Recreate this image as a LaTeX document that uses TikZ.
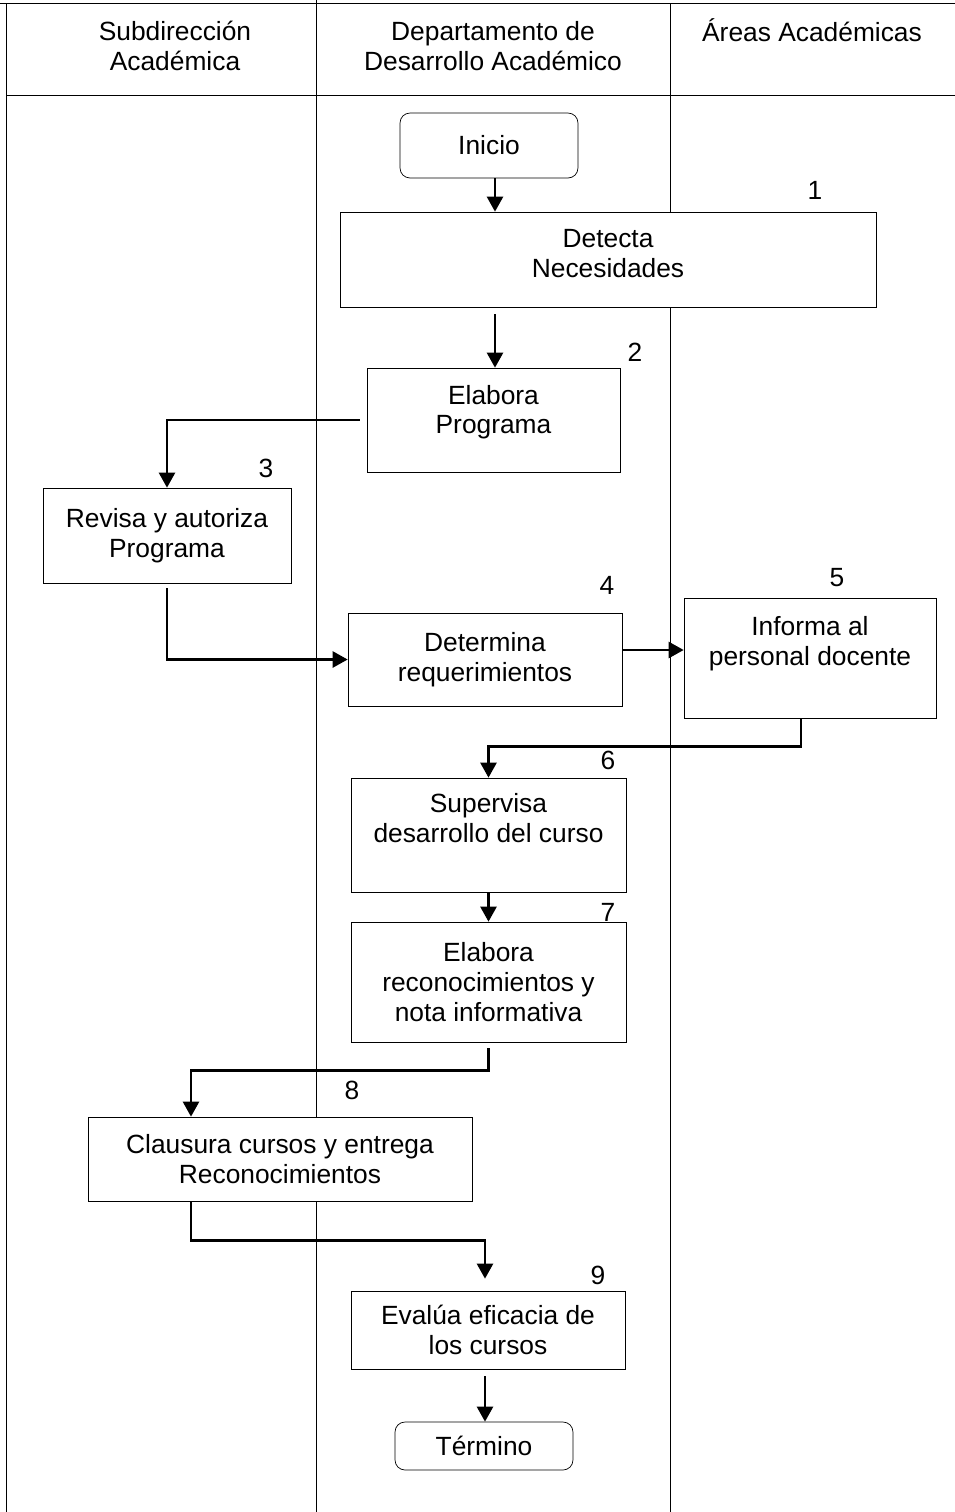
\documentclass[tikz,border=0pt]{standalone}
\usepackage{fontspec}
\setmainfont{Liberation Sans}
\usetikzlibrary{
        arrows.meta,
        positioning
    }
\tikzset{>={Triangle[length=0.3cm,width=0.32cm]},line width=1.1pt}
\tikzset{box/.style={draw,fill=white,rectangle,inner sep=0pt,align=center,font=\fontsize{15}{17}\selectfont}}
\tikzset{terminal/.style={box,rounded corners=0.2cm}}
\tikzset{flow/.style={->,line width=1.4pt}}
\tikzset{head/.style={align=center,font=\fontsize{15}{17}\selectfont}}

\begin{document}
\begin{tikzpicture}[x=0.02cm,y=-0.02cm]
            \useasboundingbox (0,0) rectangle (955,1512);
            % lanes
            \draw (0,3) -- (955,3);
            \draw (6,3) -- (6,1512);
            \draw (6,95) -- (955,95);
            \draw (316,0) -- (316,1512);
            \draw (670,3) -- (670,1512);
            \node[head] (sub)   at (175,46) {Subdirección\\Académica};
            \node[head] (dep)   at (493,46) {Departamento de\\Desarrollo Académico};
            \node[head] (areas) at (812,30) {Áreas Académicas};
            % steps
            \node[terminal,minimum width=3.56cm,minimum height=1.3cm] (inicio)    at (489,145.5)  {Inicio};
            \node[box,minimum width=10.72cm,minimum height=1.9cm,text depth=7pt] (detecta) at (608,259.5) {Detecta\\Necesidades};
            \node[box,minimum width=5.06cm,minimum height=2.08cm,text depth=12pt] (elabora) at (493.5,420) {Elabora\\Programa};
            \node[box,minimum width=4.96cm,minimum height=1.9cm]      (revisa)    at (167,535.5)  {Revisa y autoriza\\Programa};
            \node[box,minimum width=5.48cm,minimum height=1.86cm]     (determina) at (485,659.5)  {Determina\\requerimientos};
            \node[box,minimum width=5.04cm,minimum height=2.4cm,text depth=19pt] (informa) at (810,658) {Informa al\\personal docente};
            \node[box,minimum width=5.5cm,minimum height=2.28cm,text depth=19pt] (supervisa) at (488.5,835) {Supervisa\\desarrollo del curso};
            \node[box,minimum width=5.5cm,minimum height=2.4cm]       (recon)     at (488.5,982)  {Elabora\\reconocimientos y\\nota informativa};
            \node[box,minimum width=7.68cm,minimum height=1.68cm]     (clausura)  at (280,1159)   {Clausura cursos y entrega\\Reconocimientos};
            \node[box,minimum width=5.48cm,minimum height=1.56cm]     (evalua)    at (488,1330)   {Evalúa eficacia de\\los cursos};
            \node[terminal,minimum width=3.56cm,minimum height=0.96cm] (termino)  at (484,1446)   {Término};
            % step numbers
            \foreach \n/\x/\y in {1/815/190,2/635/352,3/266/468,4/607/585,5/837/578,6/608/760,7/608/912,8/352/1090,9/598/1275}
                \node[head] (num\n) at (\x,\y) {\n};
            % flow
            \draw[flow] (495,0 |- inicio.south) -- (495,0 |- detecta.north);
            \draw[flow,shorten <=0.14cm] (495,0 |- detecta.south) -- (495,0 |- elabora.north);
            \draw[flow,shorten <=0.14cm] (elabora.west) -| (revisa.north);
            \draw[flow,shorten <=0.1cm] (revisa.south) |- (determina.west);
            \draw[flow] (determina.east |- 0,650) -- (informa.west |- 0,650);
            \draw[flow] (801,0 |- informa.south) -- ++(0,28) -| (supervisa.north);
            \draw[flow] (supervisa.south) -- (recon.north);
            \draw[flow,shorten <=0.12cm] (recon.south) -- ++(0,28) -| (191,0 |- clausura.north);
            \draw[flow,shorten >=0.24cm] (191,0 |- clausura.south) -- ++(0,39) -| (485,0 |- evalua.north);
            \draw[flow,shorten <=0.14cm] (485,0 |- evalua.south) -- (485,0 |- termino.north);
\end{tikzpicture}
\end{document}
